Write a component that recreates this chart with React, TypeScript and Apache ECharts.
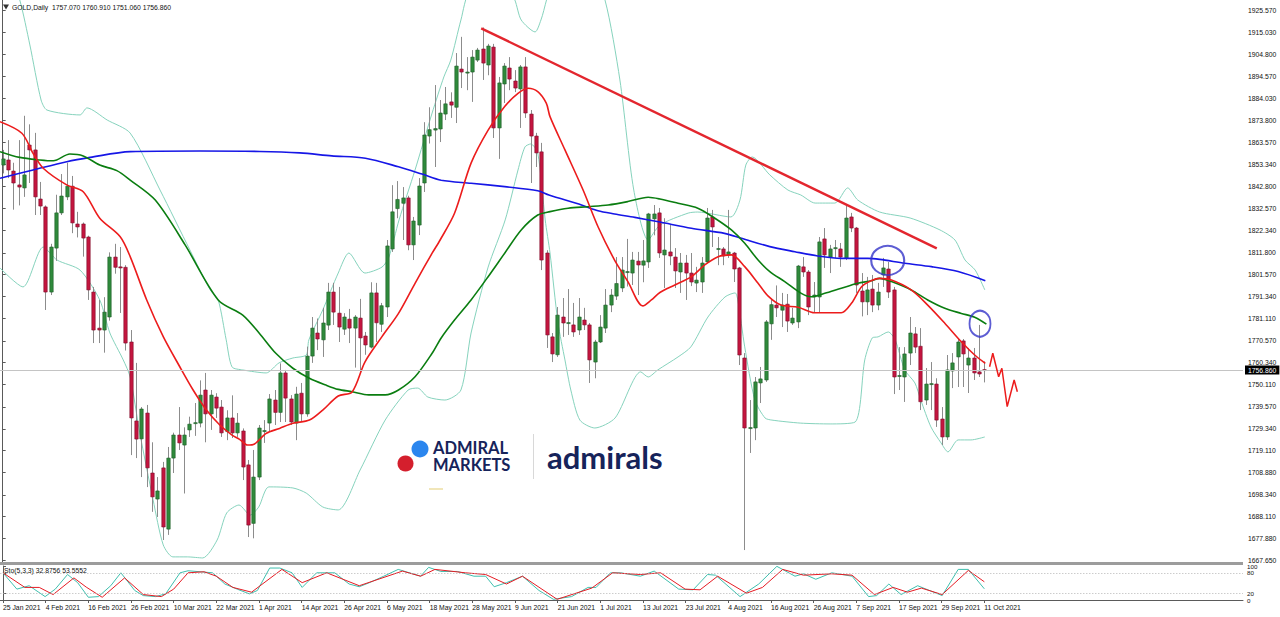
import React, { useEffect, useRef } from 'react';
import * as echarts from 'echarts';

// ---------- DATA ----------
const N_CATS = 233; // 185 trading days + empty space on the right
const TICK_LABELS = [
  '25 Jan 2021', '4 Feb 2021', '16 Feb 2021', '26 Feb 2021', '10 Mar 2021', '22 Mar 2021',
  '1 Apr 2021', '14 Apr 2021', '26 Apr 2021', '6 May 2021', '18 May 2021', '28 May 2021',
  '9 Jun 2021', '21 Jun 2021', '1 Jul 2021', '13 Jul 2021', '23 Jul 2021', '4 Aug 2021',
  '16 Aug 2021', '26 Aug 2021', '7 Sep 2021', '17 Sep 2021', '29 Sep 2021', '11 Oct 2021',
];
const PRICE_TICKS = [
  1925.57, 1915.03, 1904.8, 1894.57, 1884.03, 1873.8, 1863.57, 1853.34, 1842.8, 1832.57,
  1822.34, 1811.8, 1801.57, 1791.34, 1781.11, 1770.57, 1760.34, 1750.11, 1739.57, 1729.34,
  1719.11, 1708.88, 1698.34, 1688.11, 1677.88, 1667.65,
];
const STO_TICKS = [0, 20, 80, 100];
const LAST_PRICE = 1756.86;

// [open, close, low, high]
const CANDLES = [
  [1852.9, 1855.8, 1849.0, 1860.0], [1855.3, 1850.6, 1846.8, 1864.6], [1850.1, 1844.5, 1832.0, 1854.0],
  [1843.6, 1842.6, 1834.0, 1864.6], [1842.2, 1848.3, 1838.0, 1876.0], [1862.3, 1860.0, 1844.5, 1872.0],
  [1860.0, 1838.0, 1829.5, 1868.0], [1837.0, 1833.7, 1829.5, 1845.0], [1833.3, 1793.4, 1785.0, 1834.0],
  [1793.4, 1814.5, 1792.0, 1816.0], [1814.0, 1830.5, 1808.0, 1839.0], [1830.5, 1838.4, 1829.5, 1848.7],
  [1838.0, 1843.0, 1836.5, 1854.0], [1843.0, 1825.8, 1821.0, 1847.8], [1825.3, 1823.9, 1819.0, 1831.0],
  [1825.3, 1818.7, 1810.0, 1826.0], [1819.2, 1794.4, 1789.7, 1819.8], [1793.4, 1775.6, 1769.5, 1795.8],
  [1776.5, 1775.6, 1769.5, 1789.7], [1775.6, 1784.0, 1765.0, 1791.0], [1781.7, 1809.8, 1780.0, 1812.0],
  [1809.8, 1805.0, 1802.0, 1816.0], [1805.2, 1804.7, 1783.6, 1814.5], [1805.0, 1769.5, 1766.0, 1806.0],
  [1770.0, 1734.4, 1717.0, 1775.6], [1733.0, 1724.5, 1715.6, 1760.2], [1724.6, 1738.6, 1706.7, 1739.5],
  [1736.7, 1711.0, 1702.0, 1740.5], [1708.6, 1697.4, 1690.4, 1723.0], [1696.4, 1700.2, 1688.0, 1706.7],
  [1711.0, 1683.3, 1677.2, 1713.8], [1682.3, 1715.6, 1679.6, 1720.8], [1715.6, 1726.4, 1708.6, 1727.5],
  [1726.4, 1722.7, 1719.4, 1739.5], [1721.7, 1726.4, 1699.0, 1730.0], [1728.8, 1731.5, 1725.5, 1735.0],
  [1732.0, 1732.2, 1726.0, 1741.4], [1732.0, 1745.1, 1730.0, 1752.0], [1747.5, 1736.3, 1723.0, 1755.5],
  [1736.3, 1745.1, 1728.8, 1747.5], [1744.2, 1739.0, 1734.4, 1746.0], [1739.5, 1727.4, 1725.5, 1742.8],
  [1728.0, 1734.4, 1724.0, 1738.0], [1734.4, 1727.4, 1725.0, 1745.0], [1727.4, 1732.0, 1725.5, 1736.7],
  [1728.3, 1711.4, 1705.3, 1729.5], [1712.4, 1684.2, 1678.6, 1714.7], [1685.0, 1706.7, 1678.0, 1719.4],
  [1706.7, 1729.7, 1705.3, 1731.1], [1728.3, 1728.5, 1722.7, 1733.4], [1732.0, 1743.3, 1727.9, 1745.6],
  [1742.8, 1737.0, 1731.1, 1747.5], [1737.0, 1755.5, 1732.5, 1760.0], [1755.5, 1743.7, 1732.5, 1756.9],
  [1743.3, 1732.5, 1731.1, 1745.1], [1732.0, 1745.6, 1724.0, 1749.0], [1746.0, 1736.3, 1732.5, 1750.8],
  [1736.3, 1763.4, 1735.0, 1767.8], [1763.4, 1776.5, 1760.2, 1781.7], [1774.2, 1771.4, 1766.2, 1781.0],
  [1771.0, 1778.9, 1763.0, 1786.0], [1777.9, 1793.4, 1775.6, 1797.7], [1793.4, 1784.0, 1778.0, 1797.7],
  [1783.5, 1777.0, 1770.0, 1795.8], [1776.0, 1781.7, 1773.3, 1783.5], [1780.7, 1776.5, 1769.5, 1785.5],
  [1776.5, 1781.7, 1758.0, 1782.6], [1781.2, 1771.9, 1755.9, 1790.2], [1772.8, 1768.6, 1764.0, 1774.7],
  [1767.6, 1793.0, 1767.0, 1798.0], [1793.0, 1779.0, 1770.0, 1797.7], [1778.3, 1787.0, 1774.7, 1788.3],
  [1786.4, 1815.0, 1781.7, 1817.8], [1813.6, 1831.0, 1812.2, 1843.5], [1832.5, 1836.8, 1828.0, 1845.4],
  [1835.0, 1837.5, 1817.8, 1842.6], [1837.5, 1815.5, 1813.0, 1838.5], [1815.5, 1826.7, 1808.4, 1828.6],
  [1824.8, 1843.1, 1820.1, 1846.8], [1844.5, 1867.0, 1840.3, 1873.0], [1866.5, 1869.5, 1863.0, 1880.0],
  [1869.3, 1870.0, 1852.0, 1890.4], [1869.8, 1877.3, 1863.7, 1883.4], [1876.8, 1881.6, 1874.0, 1889.5],
  [1882.5, 1881.0, 1875.0, 1887.0], [1880.0, 1899.3, 1872.6, 1905.4], [1897.9, 1896.5, 1889.0, 1913.0],
  [1896.0, 1896.5, 1888.0, 1903.5], [1896.5, 1903.5, 1882.5, 1906.8], [1902.1, 1906.8, 1901.2, 1907.8],
  [1907.3, 1900.7, 1892.8, 1917.4], [1899.8, 1908.7, 1895.0, 1909.7], [1908.2, 1870.3, 1865.6, 1909.7],
  [1870.3, 1891.4, 1855.8, 1894.2], [1890.9, 1899.3, 1882.0, 1900.7], [1898.4, 1893.2, 1888.0, 1903.5],
  [1892.3, 1889.0, 1887.1, 1897.4], [1888.6, 1898.9, 1870.3, 1899.8], [1898.9, 1877.3, 1875.0, 1903.5],
  [1876.8, 1866.5, 1844.5, 1878.7], [1866.5, 1858.6, 1852.0, 1868.0], [1859.1, 1808.4, 1803.7, 1863.3],
  [1811.7, 1773.3, 1767.2, 1813.0], [1772.4, 1764.4, 1760.6, 1774.2], [1764.0, 1782.6, 1763.0, 1786.4],
  [1781.7, 1778.9, 1772.4, 1790.6], [1778.9, 1779.1, 1773.3, 1794.8], [1778.0, 1774.7, 1772.4, 1788.3],
  [1775.6, 1781.7, 1773.3, 1790.6], [1780.3, 1778.0, 1775.6, 1786.0], [1778.0, 1761.6, 1750.8, 1778.9],
  [1760.6, 1770.0, 1753.0, 1771.0], [1770.0, 1777.0, 1769.5, 1782.6], [1776.5, 1787.3, 1774.2, 1794.8],
  [1787.3, 1792.0, 1784.0, 1794.8], [1791.5, 1797.4, 1789.7, 1809.8], [1795.3, 1803.7, 1793.4, 1809.8],
  [1802.8, 1803.0, 1796.0, 1818.3], [1802.3, 1808.4, 1796.7, 1812.2], [1807.9, 1806.1, 1792.0, 1812.2],
  [1806.0, 1808.0, 1798.0, 1817.8], [1807.5, 1830.0, 1804.7, 1830.5], [1827.7, 1830.0, 1820.0, 1834.2],
  [1830.5, 1811.7, 1809.4, 1832.8], [1810.8, 1813.1, 1795.3, 1828.0], [1812.2, 1810.3, 1806.0, 1824.8],
  [1809.8, 1803.3, 1795.3, 1814.0], [1802.8, 1807.0, 1793.0, 1811.7], [1807.0, 1802.3, 1789.7, 1810.8],
  [1802.3, 1798.1, 1796.2, 1811.7], [1797.6, 1799.0, 1793.4, 1805.2], [1798.1, 1807.0, 1793.0, 1809.8],
  [1807.5, 1828.1, 1807.0, 1832.8], [1828.6, 1823.9, 1814.5, 1831.9], [1813.6, 1813.8, 1806.0, 1819.2],
  [1813.6, 1810.3, 1806.0, 1814.5], [1810.8, 1812.2, 1809.4, 1831.9], [1811.7, 1804.2, 1798.1, 1812.2],
  [1804.7, 1763.9, 1759.2, 1805.2], [1762.5, 1729.7, 1672.5, 1764.8], [1729.7, 1729.9, 1718.0, 1742.8],
  [1729.7, 1751.3, 1724.0, 1753.6], [1750.8, 1752.7, 1741.4, 1758.3], [1752.2, 1779.4, 1751.3, 1780.3],
  [1778.5, 1787.5, 1771.0, 1790.0], [1787.3, 1786.0, 1781.7, 1796.5], [1784.9, 1787.3, 1777.0, 1793.0],
  [1787.7, 1779.8, 1774.7, 1792.5], [1778.9, 1781.2, 1778.0, 1786.0], [1779.4, 1805.6, 1776.5, 1806.1],
  [1805.2, 1802.8, 1800.5, 1809.8], [1802.8, 1786.4, 1782.6, 1803.7], [1791.1, 1792.0, 1784.0, 1798.1],
  [1791.1, 1816.9, 1784.0, 1819.2], [1818.3, 1810.8, 1804.7, 1823.4], [1809.8, 1813.6, 1802.3, 1815.5],
  [1814.0, 1814.2, 1809.4, 1817.8], [1813.6, 1809.8, 1805.2, 1816.4], [1809.4, 1828.1, 1808.4, 1834.2],
  [1828.6, 1823.4, 1821.5, 1830.5], [1823.4, 1796.7, 1793.0, 1823.9], [1793.9, 1788.8, 1782.0, 1802.3],
  [1788.8, 1794.4, 1782.6, 1800.5], [1794.8, 1787.3, 1784.0, 1801.4], [1787.3, 1793.4, 1784.9, 1797.7],
  [1801.4, 1804.7, 1795.8, 1809.4], [1804.2, 1793.4, 1790.6, 1807.5], [1794.4, 1753.6, 1745.6, 1795.8],
  [1754.1, 1754.3, 1747.5, 1767.6], [1753.6, 1764.4, 1741.9, 1767.6], [1764.8, 1774.2, 1759.2, 1781.7],
  [1773.8, 1767.6, 1764.8, 1777.0], [1768.0, 1742.0, 1738.1, 1776.5], [1742.8, 1750.3, 1740.5, 1757.8],
  [1750.3, 1750.5, 1738.1, 1760.6], [1750.3, 1733.4, 1730.2, 1753.0], [1733.9, 1725.5, 1721.7, 1739.5],
  [1725.5, 1756.9, 1724.1, 1763.9], [1756.4, 1760.2, 1748.4, 1764.8], [1763.0, 1770.0, 1748.9, 1771.4],
  [1770.5, 1764.4, 1748.9, 1771.4], [1759.2, 1762.5, 1746.1, 1767.2], [1762.5, 1755.5, 1752.2, 1767.2],
  [1756.0, 1755.0, 1753.6, 1778.0], [1757.07, 1756.86, 1751.06, 1760.91],
];

// indicator lines as [bar index, price]
const MA_RED = [
  [-0.5, 1873.2], [3.6, 1867.8], [5.7, 1858.4], [7.6, 1851.4], [12.0, 1843.6], [15.1, 1840.4],
  [18.2, 1828.0], [22.0, 1819.4], [23.9, 1810.0], [27.0, 1789.7], [30.1, 1772.5], [33.2, 1758.4],
  [35.7, 1747.5], [38.2, 1738.1], [40.7, 1731.1], [43.0, 1726.4], [44.4, 1724.4], [45.9, 1721.7],
  [47.2, 1722.2], [49.4, 1727.2], [51.9, 1729.5], [54.4, 1731.9], [57.5, 1733.4], [60.0, 1738.1],
  [62.9, 1744.7], [65.5, 1746.6], [67.9, 1760.6], [71.1, 1772.5], [74.2, 1783.4], [77.3, 1797.5],
  [80.5, 1811.6], [82.0, 1817.8], [84.7, 1830.3], [87.8, 1853.8], [91.0, 1869.3], [94.1, 1880.3],
  [96.6, 1886.5], [98.5, 1888.9], [100.3, 1887.3], [101.9, 1881.9], [102.6, 1875.6], [105.4, 1860.0],
  [108.8, 1841.2], [111.6, 1824.0], [114.7, 1808.4], [117.2, 1798.3], [120.0, 1786.9], [121.6, 1789.7],
  [123.2, 1793.2], [126.0, 1796.7], [129.1, 1800.6], [131.6, 1806.1], [134.1, 1810.0], [136.6, 1810.8],
  [139.1, 1805.3], [141.6, 1797.5], [143.5, 1791.5], [145.9, 1787.3], [149.1, 1786.3], [152.2, 1783.7],
  [157.2, 1783.7], [159.1, 1788.1], [161.0, 1795.9], [162.8, 1798.7], [164.4, 1799.8], [166.6, 1799.0],
  [170.3, 1794.4], [173.4, 1787.3], [176.6, 1778.8], [179.7, 1770.1], [182.2, 1763.9], [184.2, 1760.0],
];
const MA_GREEN = [
  [-0.5, 1859.2], [3.2, 1856.5], [7.0, 1855.3], [9.5, 1854.9], [12.6, 1858.1], [15.1, 1857.2],
  [18.2, 1852.9], [21.4, 1850.3], [23.9, 1845.9], [28.6, 1836.5], [34.2, 1815.5], [40.4, 1789.7],
  [45.0, 1782.6], [48.1, 1774.1], [51.2, 1764.7], [54.4, 1757.7], [57.5, 1753.0], [60.6, 1749.8],
  [62.9, 1747.8], [65.5, 1746.7], [68.6, 1745.2], [71.7, 1745.2], [74.2, 1747.5], [77.3, 1753.7],
  [80.5, 1764.7], [82.2, 1771.9], [84.7, 1780.3], [87.8, 1789.7], [91.0, 1800.6], [94.1, 1811.6],
  [97.2, 1822.5], [100.3, 1829.5], [102.6, 1831.1], [106.0, 1832.7], [109.7, 1833.4], [113.5, 1834.2],
  [117.2, 1835.8], [121.0, 1837.8], [123.2, 1837.0], [126.6, 1835.0], [130.3, 1832.7], [133.5, 1828.0],
  [136.6, 1822.5], [139.1, 1816.3], [141.6, 1808.4], [143.8, 1803.0], [146.6, 1798.3], [149.7, 1792.8],
  [151.6, 1791.2], [154.1, 1792.8], [157.2, 1795.2], [160.3, 1797.5], [162.8, 1798.7], [164.4, 1799.8],
  [166.6, 1798.3], [170.3, 1794.4], [173.4, 1789.7], [176.6, 1785.8], [179.7, 1783.4], [182.2, 1781.6],
  [184.4, 1778.4],
];
const MA_BLUE = [
  [-0.5, 1846.7], [5.7, 1850.6], [12.0, 1854.5], [16.4, 1856.5], [23.9, 1859.2], [37.0, 1859.5],
  [48.2, 1859.3], [55.7, 1858.6], [61.7, 1857.2], [68.0, 1856.1], [74.2, 1852.1], [78.6, 1848.7],
  [82.2, 1845.8], [87.8, 1844.4], [94.1, 1842.8], [100.3, 1840.9], [102.4, 1838.9], [108.5, 1834.2],
  [111.6, 1831.5], [114.7, 1830.0], [118.5, 1828.4], [123.2, 1826.2], [129.1, 1823.3], [135.3, 1820.9],
  [138.5, 1818.6], [143.8, 1814.7], [148.5, 1812.3], [152.8, 1810.3], [157.2, 1809.2], [162.2, 1809.2],
  [164.4, 1808.7], [169.1, 1806.9], [174.1, 1805.3], [179.1, 1803.0], [184.2, 1798.7],
];
const BB_UPPER = [
  [-0.5, 1958.0], [3.2, 1930.3], [5.1, 1909.2], [7.2, 1883.4], [8.3, 1878.7], [14.5, 1876.4],
  [15.8, 1879.7], [19.6, 1874.0], [23.9, 1867.9], [29.5, 1841.2], [35.1, 1813.1], [38.9, 1794.4],
  [40.4, 1789.7], [41.9, 1771.0], [43.0, 1758.3], [45.0, 1756.9], [49.4, 1755.5], [51.8, 1760.2],
  [54.4, 1762.5], [56.9, 1763.9], [57.4, 1771.0], [60.0, 1785.0], [62.9, 1802.3], [64.9, 1811.7],
  [67.9, 1802.3], [71.1, 1805.1], [72.4, 1809.8], [74.3, 1827.2], [77.3, 1850.6], [80.5, 1877.3],
  [82.7, 1894.2], [84.0, 1902.1], [85.9, 1920.9], [87.6, 1935.0], [93.2, 1944.0], [96.0, 1930.3],
  [97.2, 1920.9], [99.8, 1915.3], [100.9, 1920.9], [103.5, 1939.6], [110.1, 1944.3], [112.9, 1930.3],
  [115.7, 1892.8], [118.3, 1841.2], [121.0, 1817.8], [123.2, 1824.8], [128.5, 1830.4], [130.3, 1830.9],
  [136.5, 1828.6], [138.2, 1836.5], [139.3, 1852.9], [140.5, 1856.7], [143.8, 1848.3], [147.2, 1841.2],
  [149.6, 1838.9], [152.3, 1835.1], [156.0, 1835.1], [158.4, 1842.2], [160.3, 1836.5], [164.4, 1830.9],
  [170.1, 1828.1], [175.7, 1822.5], [178.5, 1817.8], [180.4, 1808.4], [182.3, 1803.7], [184.1, 1794.4],
];
const BB_LOWER = [
  [-0.5, 1804.7], [3.8, 1795.8], [7.6, 1814.5], [10.2, 1808.4], [14.5, 1803.7], [18.2, 1789.7],
  [20.1, 1774.2], [22.6, 1761.6], [23.9, 1753.6], [25.7, 1727.4], [28.2, 1696.0], [30.1, 1674.9],
  [31.9, 1669.3], [34.6, 1669.3], [37.5, 1668.8], [40.2, 1677.2], [42.0, 1689.9], [44.3, 1693.6],
  [46.4, 1688.9], [48.0, 1692.7], [49.9, 1702.1], [54.4, 1701.6], [56.9, 1699.2], [60.0, 1692.7],
  [62.9, 1691.3], [67.0, 1710.0], [71.7, 1733.4], [76.0, 1747.5], [77.8, 1748.4], [79.7, 1744.2],
  [82.9, 1742.8], [85.9, 1747.5], [87.8, 1774.2], [91.0, 1805.1], [94.2, 1827.2], [96.6, 1850.6],
  [97.9, 1861.4], [99.0, 1862.8], [100.3, 1858.6], [101.7, 1827.2], [102.6, 1811.7], [104.1, 1778.9],
  [105.4, 1761.6], [106.5, 1747.5], [108.2, 1733.4], [111.0, 1729.7], [114.8, 1734.4], [119.6, 1756.0],
  [121.0, 1753.6], [122.8, 1756.9], [126.6, 1763.0], [129.0, 1767.7], [132.2, 1781.7], [135.4, 1791.1],
  [137.3, 1793.0], [137.8, 1789.7], [139.1, 1767.7], [141.0, 1742.8], [142.9, 1734.4], [144.2, 1733.4],
  [149.5, 1732.0], [155.1, 1731.6], [159.8, 1732.5], [161.6, 1761.6], [163.0, 1771.9], [164.1, 1772.4],
  [166.0, 1774.7], [167.3, 1771.0], [169.1, 1756.9], [171.0, 1750.8], [172.1, 1742.8], [174.0, 1730.2],
  [175.9, 1722.7], [177.2, 1718.5], [179.1, 1724.1], [181.5, 1724.1], [184.1, 1725.5],
];

// drawings on the chart
const TREND_LINE = [[89.7, 1917.0], [175.1, 1813.9]];
const FORECAST = [
  [185.0, 1758.4], [185.6, 1764.7], [186.7, 1753.7], [187.3, 1757.7], [188.3, 1739.7],
  [189.6, 1752.2], [190.2, 1746.7],
];
const CIRCLES = [
  { at: [165.9, 1808.2], size: [33, 29] },
  { at: [183.2, 1778.6], size: [21, 26] },
];

// Stochastic (5,3,3): [bar index, value]
const STO_K = [
  [0, 80], [2.6, 32], [4.9, 42], [7.9, 10], [9.8, 32], [12.1, 75], [14, 51], [16, 8], [17.9, 10],
  [20.2, 42], [22.1, 80], [24.7, 28], [26.3, 13], [28.6, 10], [30.5, 18], [33.2, 80], [34.7, 86],
  [39.3, 80], [41.6, 47], [43.9, 32], [46.2, 18], [47.7, 28], [50, 94], [51.9, 94], [54.2, 80],
  [56.1, 37], [58.8, 80], [62.2, 80], [64.9, 47], [66.8, 39], [68.7, 51], [71.4, 70], [74.1, 90],
  [78.3, 70], [79.8, 96], [82.1, 84], [85.2, 84], [88.3, 70], [90.5, 70], [92.1, 39], [94.4, 51],
  [97.4, 70], [100.5, 28], [103.2, 2], [106.6, 10], [109.7, 37], [111.2, 37], [113.9, 80], [115.8, 80],
  [119.5, 70], [122.1, 85], [126.7, 32], [129.4, 30], [132.1, 75], [133.6, 73], [138.2, 10], [141.7, 47],
  [145.1, 99], [148.5, 70], [150.1, 77], [152.4, 61], [155.4, 80], [159.2, 70], [162.3, 10], [163.8, 13],
  [166.1, 47], [168.4, 16], [171.5, 42], [176.1, 13], [179.1, 90], [181, 90], [184, 32.8756],
];
const STO_D = [
  [0, 80], [4.1, 37], [6.8, 37], [9.4, 16], [13.3, 65], [15.6, 38], [18.6, 8], [22.8, 65], [26.3, 16],
  [29.7, 10], [32, 32], [34.7, 80], [37.7, 83], [40, 70], [43.1, 37], [46.6, 23], [52.3, 90], [56.1, 51],
  [60.7, 80], [66.8, 42], [74.9, 85], [78.3, 70], [81, 90], [86.7, 80], [90.5, 75], [94.4, 47], [97.4, 70],
  [103.9, 2], [110.4, 35], [114.3, 80], [119.5, 75], [123.3, 80], [127.9, 32], [130.7, 30], [134, 70],
  [139.4, 20], [142.4, 37], [146.2, 90], [150.1, 73], [155.4, 77], [159.2, 73], [163.4, 16], [166.9, 37],
  [169.6, 23], [172.2, 35], [176.1, 16], [181, 87], [184, 53.5552],
];

// ---------- CHART ----------
const FONT = '"Liberation Sans", Arial, sans-serif';
const LOGO_FONT = 'Lato, "Open Sans", sans-serif';
const UP = '#2f8a3b';
const DOWN = '#c4153f';
const CATS = Array.from({ length: N_CATS }, (_, i) => String(i));
const showTick = (idx: number) => idx % 8 === 0 && idx / 8 < TICK_LABELS.length;

function buildOption() {
  const candleData = CANDLES.map((c, i) => [i, c[0], c[1], c[2], c[3]]);
  return {
    animation: false,
    backgroundColor: '#ffffff',
    grid: [
      { left: 0, top: 0, width: 1243, height: 562 },
      { left: 0, top: 566, width: 1243, height: 34 },
    ],
    xAxis: [
      { type: 'category', gridIndex: 0, data: CATS, boundaryGap: true, show: false },
      { type: 'value', gridIndex: 0, min: -0.5, max: N_CATS - 0.5, show: false },
      {
        type: 'category', gridIndex: 1, data: CATS, boundaryGap: true,
        axisLine: { show: true, lineStyle: { color: '#5a5a5a', width: 1 } },
        axisTick: { show: true, alignWithLabel: true, interval: showTick, length: 3, lineStyle: { color: '#5a5a5a' } },
        axisLabel: {
          interval: showTick,
          formatter: (_v: string, idx: number) => TICK_LABELS[idx / 8] ?? '',
          align: 'left', fontSize: 6.8, color: '#111', fontFamily: FONT, margin: 4,
        },
        splitLine: { show: false },
      },
      { type: 'value', gridIndex: 1, min: -0.5, max: N_CATS - 0.5, show: false },
    ],
    yAxis: [
      {
        type: 'value', gridIndex: 0, position: 'right', min: 1666.9, max: 1930.26, scale: true,
        axisLine: { show: true, lineStyle: { color: '#5a5a5a', width: 1 } },
        axisTick: { show: true, length: 3, customValues: PRICE_TICKS, lineStyle: { color: '#5a5a5a' } },
        axisLabel: {
          customValues: PRICE_TICKS, formatter: (v: number) => v.toFixed(3),
          fontSize: 6.8, color: '#111', fontFamily: FONT, margin: 5,
        },
        splitLine: { show: false },
      },
      {
        type: 'value', gridIndex: 1, position: 'right', min: 0, max: 100,
        axisLine: { show: true, lineStyle: { color: '#5a5a5a', width: 1 } },
        axisTick: { show: true, length: 3, customValues: STO_TICKS, lineStyle: { color: '#5a5a5a' } },
        axisLabel: {
          customValues: STO_TICKS, formatter: (v: number) => String(v),
          fontSize: 6.2, color: '#111', fontFamily: FONT, margin: 4,
        },
        splitLine: { show: false },
      },
    ],
    graphic: [
      { type: 'rect', shape: { x: 0, y: 562, width: 1243, height: 3 }, style: { fill: '#9c9c9c' }, z: 10 },
      { type: 'polygon', shape: { points: [[3, 4.5], [9, 4.5], [6, 9.5]] }, style: { fill: '#333' }, z: 10 },
      {
        type: 'text', x: 12, y: 7.5, z: 10,
        style: { text: 'GOLD,Daily  1757.070 1760.910 1751.060 1756.860', fontSize: 6.8, fontFamily: FONT, fill: '#111', verticalAlign: 'middle' },
      },
      {
        type: 'text', x: 4, y: 570.5, z: 10,
        style: { text: 'Sto(5,3,3) 32.8756 53.5552', fontSize: 6.8, fontFamily: FONT, fill: '#111', verticalAlign: 'middle' },
      },
      // watermark logo
      { type: 'circle', shape: { cx: 420, cy: 449, r: 8.5 }, style: { fill: '#2b86ee' }, z: 1 },
      { type: 'circle', shape: { cx: 405.5, cy: 463.5, r: 8 }, style: { fill: '#d41f2d' }, z: 1 },
      {
        type: 'text', x: 433, y: 447.5, z: 1,
        style: { text: 'ADMIRAL', fontSize: 16.5, fontWeight: 'bold', fontFamily: LOGO_FONT, fill: '#16235a', verticalAlign: 'middle' },
      },
      {
        type: 'text', x: 433, y: 465, z: 1,
        style: { text: 'MARKETS', fontSize: 16.5, fontWeight: 'bold', fontFamily: LOGO_FONT, fill: '#16235a', verticalAlign: 'middle' },
      },
      { type: 'line', shape: { x1: 533.5, y1: 434, x2: 533.5, y2: 479 }, style: { stroke: '#d8d8d8', lineWidth: 1 }, z: 1 },
      {
        type: 'text', x: 547, y: 456.5, z: 1,
        style: { text: 'admirals', fontSize: 31, fontWeight: 'bold', fontFamily: LOGO_FONT, fill: '#16235a', verticalAlign: 'middle' },
      },
      { type: 'line', shape: { x1: 429, y1: 489, x2: 443, y2: 489 }, style: { stroke: '#e8d68a', lineWidth: 1.2 }, z: 1 },
    ],
    series: [
      {
        type: 'line', name: 'BBU', xAxisIndex: 1, yAxisIndex: 0, data: BB_UPPER, smooth: 0.25,
        symbol: 'none', lineStyle: { color: '#86d3bd', width: 1 }, z: 2,
      },
      {
        type: 'line', name: 'BBL', xAxisIndex: 1, yAxisIndex: 0, data: BB_LOWER, smooth: 0.25,
        symbol: 'none', lineStyle: { color: '#86d3bd', width: 1 }, z: 2,
        markLine: {
          silent: true, symbol: 'none', animation: false,
          data: [{ yAxis: LAST_PRICE }],
          lineStyle: { color: '#c4c4c4', width: 1, type: 'solid' },
          label: {
            show: true, position: 'end', formatter: LAST_PRICE.toFixed(3), distance: 2,
            backgroundColor: '#000', color: '#fff', fontSize: 6.8, fontFamily: FONT, padding: [1, 3, 1, 3],
          },
        },
      },
      {
        type: 'custom', name: 'GOLD', xAxisIndex: 0, yAxisIndex: 0, data: candleData, z: 3,
        encode: { x: 0, y: [1, 2, 3, 4] },
        renderItem: (_p: any, api: any) => {
          const i = api.value(0);
          const o = api.value(1), c = api.value(2), l = api.value(3), h = api.value(4);
          const pO = api.coord([i, o]);
          const pC = api.coord([i, c]);
          const pL = api.coord([i, l]);
          const pH = api.coord([i, h]);
          const x = Math.round(pO[0]) + 0.5;
          const top = Math.min(pO[1], pC[1]);
          const bot = Math.max(pO[1], pC[1]);
          const up = c >= o;
          const hgt = Math.max(1, bot - top);
          return {
            type: 'group',
            children: [
              { type: 'line', shape: { x1: x, y1: pH[1], x2: x, y2: pL[1] }, style: { stroke: '#8c8c8c', lineWidth: 1 } },
              {
                type: 'rect',
                shape: { x: x - 1.7, y: top, width: 3.4, height: hgt },
                style: { fill: up ? UP : DOWN, stroke: up ? '#1f5e29' : '#7d0f2b', lineWidth: 0.6 },
              },
            ],
          };
        },
      },
      {
        type: 'line', name: 'MA200', xAxisIndex: 1, yAxisIndex: 0, data: MA_BLUE, smooth: 0.3,
        symbol: 'none', lineStyle: { color: '#1616e6', width: 1.6 }, z: 4,
      },
      {
        type: 'line', name: 'MA50', xAxisIndex: 1, yAxisIndex: 0, data: MA_GREEN, smooth: 0.3,
        symbol: 'none', lineStyle: { color: '#0a7d10', width: 1.6 }, z: 4,
      },
      {
        type: 'line', name: 'MA20', xAxisIndex: 1, yAxisIndex: 0, data: MA_RED, smooth: 0.3,
        symbol: 'none', lineStyle: { color: '#ec1c1c', width: 1.6 }, z: 4,
      },
      {
        type: 'line', name: 'Trend', xAxisIndex: 1, yAxisIndex: 0, data: TREND_LINE,
        symbol: 'none', lineStyle: { color: '#e3262e', width: 2.4 }, z: 5,
      },
      {
        type: 'line', name: 'Forecast', xAxisIndex: 1, yAxisIndex: 0, data: FORECAST,
        symbol: 'none', lineStyle: { color: '#ec1c1c', width: 1.5 }, z: 5,
      },
      {
        type: 'scatter', name: 'Circles', xAxisIndex: 1, yAxisIndex: 0, z: 6,
        data: CIRCLES.map((c) => ({ value: c.at, symbolSize: c.size })),
        symbol: 'circle',
        itemStyle: { color: 'rgba(0,0,0,0)', borderColor: '#3535c8', borderWidth: 2 },
      },
      {
        type: 'line', name: 'K', xAxisIndex: 3, yAxisIndex: 1, data: STO_K,
        symbol: 'none', lineStyle: { color: '#3fbfae', width: 1 }, z: 3,
        markLine: {
          silent: true, symbol: 'none', animation: false,
          data: [{ yAxis: 20 }, { yAxis: 80 }],
          lineStyle: { color: '#b4b4b4', width: 1, type: [1, 2] },
          label: { show: false },
        },
      },
      {
        type: 'line', name: 'D', xAxisIndex: 3, yAxisIndex: 1, data: STO_D,
        symbol: 'none', lineStyle: { color: '#e51c24', width: 1 }, z: 4,
      },
    ],
  };
}

export default function App() {
  const ref = useRef<HTMLDivElement>(null);
  useEffect(() => {
    if (!ref.current) return;
    const chart = echarts.init(ref.current, null, { renderer: 'svg' });
    chart.setOption(buildOption() as any);
    return () => chart.dispose();
  }, []);
  return (
    <div
      ref={ref}
      style={{ position: 'fixed', left: 0, top: 0, width: 1280, height: 617, background: '#fff' }}
    />
  );
}
